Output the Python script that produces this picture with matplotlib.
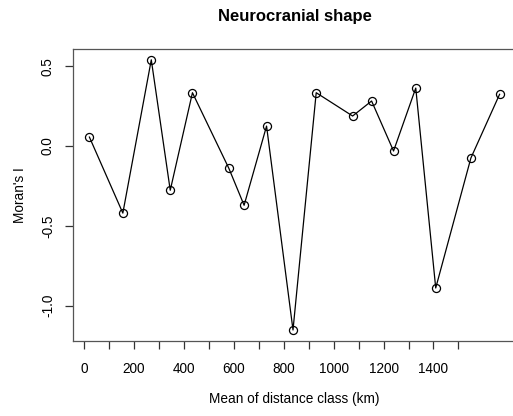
import matplotlib
matplotlib.use("Agg")
import matplotlib.pyplot as plt

plt.rcParams['font.family'] = ['Liberation Sans', 'DejaVu Sans']

distance = [21, 155, 269, 345, 434, 580, 641, 731, 837, 930, 1076, 1152, 1240, 1329, 1409, 1550, 1665]
morans_i = [0.056, -0.42, 0.54, -0.277, 0.334, -0.14, -0.371, 0.125, -1.152, 0.334, 0.188, 0.282, -0.031, 0.363, -0.889, -0.075, 0.324]
xticks = list(range(0, 1600, 100))
xticklabels = [str(t) if t % 200 == 0 and t <= 1400 else "" for t in xticks]
yticks = [-1.0, -0.5, 0.0, 0.5]
yticklabels = ["-1.0", "-0.5", "0.0", "0.5"]

W, H = 513, 416
fig = plt.figure(figsize=(W / 100, H / 100), dpi=100)
left, right, top, bottom = 73, 516, 49, 340.8
ax = fig.add_axes([left / W, 1 - bottom / H, (right - left) / W, (bottom - top) / H])

ax.plot(distance, morans_i, color='black', lw=0.9, marker='o', ms=5.8,
        mfc='none', mec='black', mew=0.9)

xmin, xmax = min(distance), max(distance)
pad = 0.04 * (xmax - xmin)
ax.set_xlim(xmin - pad, xmax + pad)
ymin, ymax = min(morans_i), max(morans_i)
pady = 0.04 * (ymax - ymin)
ax.set_ylim(ymin - pady, ymax + pady)

ax.set_xticks(xticks)
ax.set_xticklabels(xticklabels)
ax.set_yticks(yticks)
ax.set_yticklabels(yticklabels, rotation=90, va='center')
ax.tick_params(axis='both', length=6, width=0.9, labelsize=9.8, color='#333333')
ax.tick_params(axis='x', pad=9)
ax.tick_params(axis='y', pad=7)
for s in ax.spines.values():
    s.set_linewidth(0.9)
    s.set_color('#555555')

ax.set_xlabel("Mean of distance class (km)", fontsize=9.8, labelpad=12)
ax.set_ylabel("Moran's I", fontsize=9.8, labelpad=10)
ax.set_title("Neurocranial shape", fontsize=12, fontweight='bold', pad=20)

fig.savefig("out.png", dpi=100)
